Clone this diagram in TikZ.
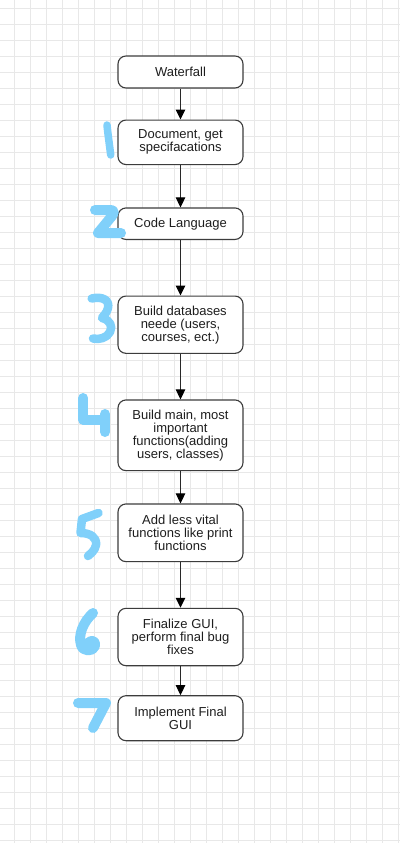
\documentclass[tikz,border=0pt]{standalone}
\usepackage{fontspec}
\setmainfont{Liberation Sans}
\usetikzlibrary{arrows.meta}
\definecolor{gridc}{RGB}{232,232,232}
\definecolor{boxc}{RGB}{60,60,60}
\definecolor{linec}{RGB}{40,40,40}
\definecolor{txtc}{RGB}{30,30,30}
\definecolor{numc}{RGB}{128,208,250}
\tikzset{
  stepbox/.style={draw=boxc, line width=1.1pt, rounded corners=8pt, fill=white,
    minimum width=125pt, inner sep=0pt, align=center, text=txtc,
    font=\fontsize{13pt}{13pt}\selectfont},
  conn/.style={draw=linec, line width=1pt, -{Triangle[length=10pt,width=9.5pt,color=black]}},
  digit/.style={draw=numc, line cap=round, line join=round}
}
\begin{document}
\begin{tikzpicture}[x=1pt,y=-1pt]
\useasboundingbox (0,0) rectangle (400,843);
\fill[white] (0,0) rectangle (400,843);
\foreach \k in {0,...,24} {\draw[gridc, line width=0.7pt] ({14.5+16*\k},0) -- ({14.5+16*\k},843);}
\foreach \k in {0,...,52} {\draw[gridc, line width=0.7pt] (0,{8.5+16*\k}) -- (400,{8.5+16*\k});}

\node[stepbox, minimum height=32pt] (w) at (180.5,72) {Waterfall};
\node[stepbox, minimum height=44.5pt] (s1) at (180.5,142.3) {Document, get\\specifacations};
\node[stepbox, minimum height=31.5pt] (s2) at (180.5,223.7) {Code Language};
\node[stepbox, minimum height=57.3pt] (s3) at (180.5,324.7) {Build databases\\neede (users,\\courses, ect.)};
\node[stepbox, minimum height=70.7pt] (s4) at (180.5,435.3) {Build main, most\\important\\functions(adding\\users, classes)};
\node[stepbox, minimum height=57.7pt] (s5) at (180.5,532.8) {Add less vital\\functions like print\\functions};
\node[stepbox, minimum height=57.4pt] (s6) at (180.5,637) {Finalize GUI,\\perform final bug\\fixes};
\node[stepbox, minimum height=45pt] (s7) at (180.5,718.2) {Implement Final\\GUI};

\draw[conn] (w) -- (s1);
\draw[conn] (s1) -- (s2);
\draw[conn] (s2) -- (s3);
\draw[conn] (s3) -- (s4);
\draw[conn] (s4) -- (s5);
\draw[conn] (s5) -- (s6);
\draw[conn] (s6) -- (s7);

% hand-drawn step numbers
\draw[digit, line width=7.5pt] (107,125) .. controls (108,135) and (109.5,145) .. (110.7,155);
\draw[digit, line width=10pt] (95,210) -- (110,210) .. controls (114,210) and (115,212) .. (112,216) -- (98,233) -- (121,233);
\draw[digit, line width=8.5pt] (91.7,298.5) .. controls (102,296) and (110,300) .. (108,308) .. controls (107,313) and (103,316) .. (102,318) .. controls (110,320) and (113,326) .. (110,332) .. controls (107,338) and (99,340) .. (93,338.5);
\draw[digit, line width=10pt] (83.3,398) -- (83.3,420) -- (105,420);
\draw[digit, line width=10pt] (105,414) -- (105,432);
\draw[digit, line width=8.5pt] (98.5,513) -- (82,519) -- (80.5,533) .. controls (90,533) and (97,537) .. (96,545) .. controls (95,551) and (90,554) .. (88,556);
\draw[digit, line width=10pt] (93,613) .. controls (83,622) and (78,635) .. (81,645) .. controls (83,652) and (93,652) .. (95,646) .. controls (96,641) and (92,639) .. (88,643);
\draw[digit, line width=10pt] (78,703) -- (106,703) -- (93,728);
\end{tikzpicture}
\end{document}
